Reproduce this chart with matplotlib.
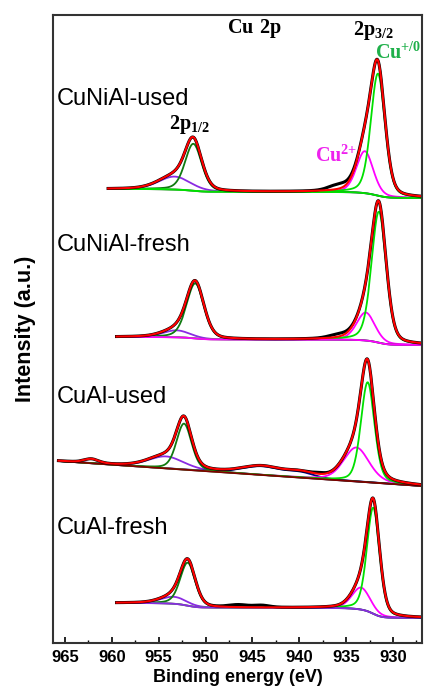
import numpy as np
import matplotlib
matplotlib.use("Agg")
import matplotlib.pyplot as plt
from matplotlib.ticker import MultipleLocator

plt.rcParams['font.family'] = ['Liberation Sans', 'DejaVu Sans']
plt.rcParams['mathtext.fontset'] = 'custom'
plt.rcParams['mathtext.rm'] = 'Liberation Serif'
plt.rcParams['mathtext.bf'] = 'Liberation Serif:bold'

# sample names, top to bottom
samples = ["CuNiAl-used", "CuNiAl-fresh", "CuAl-used", "CuAl-fresh"]

# where each scan starts (eV) and background levels (high-BE side, low-BE side)
e_start = [960.4, 959.5, 965.7, 959.5]
bg_high = [454, 306, 182, 40]
bg_low = [445, 298, 157, 25]
bg_kind = ["shirley", "shirley", "linear", "shirley"]

# fitted components: (centre eV, height, fwhm)
cu0_32 = [(931.6, 122, 1.8), (931.5, 131, 1.85), (932.7, 100, 1.7), (932.1, 106, 1.6)]
cu2_32 = [(933.0, 42, 2.1), (932.9, 28, 2.3), (933.9, 34, 3.2), (933.4, 22, 2.3)]
cu0_12 = [(951.3, 47, 2.1), (951.1, 55, 2.2), (952.3, 46, 1.9), (951.9, 43, 1.9)]
cu2_12 = [(953.3, 13, 4.0), (953.1, 7, 3.4), (954.2, 12, 4.5), (953.4, 7, 3.2)]
# shake-up satellites (only the CuAl-used fit has them)
sat = [[], [], [(944.0, 8.5, 5.0), (939.8, 4.5, 3.5), (962.2, 4, 1.8)], []]
# features in the raw data the fit does not catch
extra = [[(935.8, 5, 2.5)], [(935.8, 3, 2.5)], [(937.8, 1.5, 1.5)],
         [(946.5, 2.5, 2.5), (944.0, 2, 2.0)]]

bg_colors = ["#00e000", "#ff00ff", "#800000", "#8a2be2"]


def pv(e, c, h, w, eta=0.3):
    g = np.exp(-4 * np.log(2) * ((e - c) / w) ** 2)
    l = 1 / (1 + 4 * ((e - c) / w) ** 2)
    return h * ((1 - eta) * g + eta * l)


def peak_sum(e, comps):
    y = np.zeros_like(e)
    for c, h, w in comps:
        y += pv(e, c, h, w)
    return y


fig = plt.figure(figsize=(4.24, 6.95), dpi=100)
ax = fig.add_axes([53 / 424, 52 / 695, 369 / 424, 628 / 695])

for i in range(4):
    e = np.linspace(926.0, e_start[i], 900)
    comps = [cu0_32[i], cu2_32[i], cu0_12[i], cu2_12[i]] + sat[i]
    total = peak_sum(e, comps)
    if bg_kind[i] == "shirley":
        area = np.cumsum(total)
        bg = bg_low[i] + (bg_high[i] - bg_low[i]) * area / area[-1]
    else:
        bg = np.interp(e, [926.9, 965.7], [bg_low[i], bg_high[i]])

    ax.plot(e, bg + pv(e, *cu2_12[i]), color="#8a2be2", lw=1.3)
    if sat[i]:
        ax.plot(e, bg + peak_sum(e, sat[i][:2]), color="#000080", lw=1.3)
    ax.plot(e, bg + pv(e, *cu2_32[i]), color="#ff00ff", lw=1.3)
    ax.plot(e, bg + pv(e, *cu0_12[i]), color="#107a10", lw=1.3)
    ax.plot(e, bg + pv(e, *cu0_32[i]), color="#00e000", lw=1.3)
    ax.plot(e, bg, color=bg_colors[i], lw=1.3)
    ax.plot(e, bg + total + peak_sum(e, extra[i]), color="black", lw=2.2)
    ax.plot(e, bg + total, color="red", lw=1.5)

label_y = [544, 398, 246, 115]
for name, y in zip(samples, label_y):
    ax.text(965.85, y, name, fontsize=17, ha="left", va="center")

ax.text(944.8, 614, r"$\mathbf{Cu\ 2p}$", fontsize=14.5, ha="center", va="center")
ax.text(932.1, 612, r"$\mathbf{2p}_{\mathbf{3/2}}$", fontsize=14.5, ha="center", va="center")
ax.text(951.7, 518, r"$\mathbf{2p}_{\mathbf{1/2}}$", fontsize=14.5, ha="center", va="center")
ax.text(929.4, 591, r"$\mathbf{Cu}^{\mathbf{{+}/0}}$", fontsize=14.5, ha="center",
        va="center", color="#1fb04a")
ax.text(936.1, 488, r"$\mathbf{Cu}^{\mathbf{2{+}}}$", fontsize=14.5, ha="center",
        va="center", color="#ee22ee")

ax.set_xlim(966.28, 926.9)
ax.set_ylim(0, 628)
ax.set_yticks([])
ax.xaxis.set_major_locator(MultipleLocator(5))
ax.xaxis.set_minor_locator(MultipleLocator(2.5))
ax.tick_params(axis="x", which="major", direction="in", length=4, width=1.2,
               labelsize=12, pad=5)
ax.tick_params(axis="x", which="minor", direction="in", length=2.5, width=1)
for lab in ax.get_xticklabels():
    lab.set_fontweight("bold")
for sp in ax.spines.values():
    sp.set_linewidth(1.5)
    sp.set_color("#333333")

ax.set_xlabel("Binding energy (eV)", fontsize=13, fontweight="bold", labelpad=3)
ax.set_ylabel("Intensity (a.u.)", fontsize=15.5, fontweight="bold", labelpad=12)

fig.savefig("out.png", dpi=100)
